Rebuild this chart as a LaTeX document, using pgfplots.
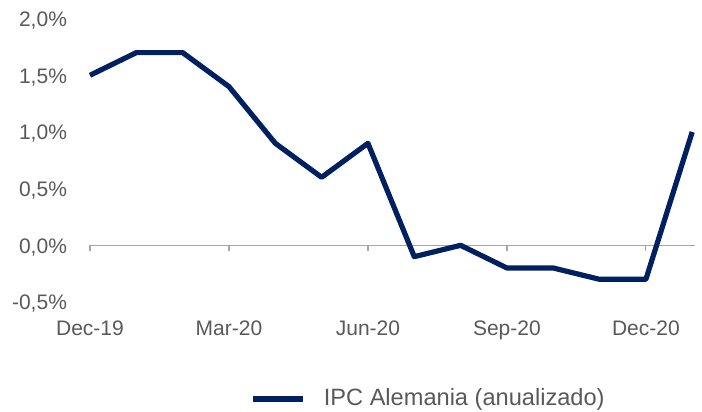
\documentclass[border=0pt]{standalone}
\usepackage{pgfplots}
\pgfplotsset{compat=1.18}
\usepackage{fontspec}
\setmainfont{Liberation Sans}
\definecolor{navy}{RGB}{0,32,96}
\definecolor{txt}{RGB}{89,89,89}
\definecolor{axgray}{RGB}{166,166,166}
\begin{document}
\begin{tikzpicture}
\begin{axis}[
  at={(45pt,55pt)}, anchor=south west,
  scale only axis, width=302.5pt, height=141.7pt,
  xmin=0, xmax=13.06, ymin=-0.5, ymax=2.0,
  axis line style={draw=none},
  major tick length=0pt,
  xtick={0,3,6,9,12},
  xticklabels={Dec-19,Mar-20,Jun-20,Sep-20,Dec-20},
  ytick={-0.5,0,0.5,1,1.5,2},
  yticklabels={{-0,5\%},{0,0\%},{0,5\%},{1,0\%},{1,5\%},{2,0\%}},
  tick label style={font=\fontsize{10.5}{12}\selectfont, text=txt},
  yticklabel style={xshift=-8pt, yshift=-1pt},
  xticklabel style={yshift=-6pt},
  clip=false,
  legend style={draw=none, fill=none, at={(0.255,-0.342)}, anchor=west,
    font=\fontsize{11.8}{13}\selectfont\color{txt}},
  legend image code/.code={\draw[#1] (0pt,0pt) -- (25pt,0pt); \path (32pt,0pt);},
]
\draw[axgray, line width=0.6pt] (axis cs:0,0) -- (axis cs:13.06,0);
\pgfplotsinvokeforeach{0,3,6,9,12}{
  \draw[axgray, line width=0.6pt] (axis cs:#1,0) -- ([yshift=-3pt]axis cs:#1,0);
}
\addplot[navy, line width=2.6pt, line join=round] coordinates {
(0,1.5) (1,1.7) (2,1.7) (3,1.4) (4,0.9) (5,0.6) (6,0.9) (7,-0.1) (8,0.0) (9,-0.2) (10,-0.2) (11,-0.3) (12,-0.3) (13,1.0)
};
\addlegendentry{IPC Alemania (anualizado)}
\end{axis}
\pgfresetboundingbox
\path (0,0) rectangle (351pt,206pt);
\end{tikzpicture}
\end{document}
